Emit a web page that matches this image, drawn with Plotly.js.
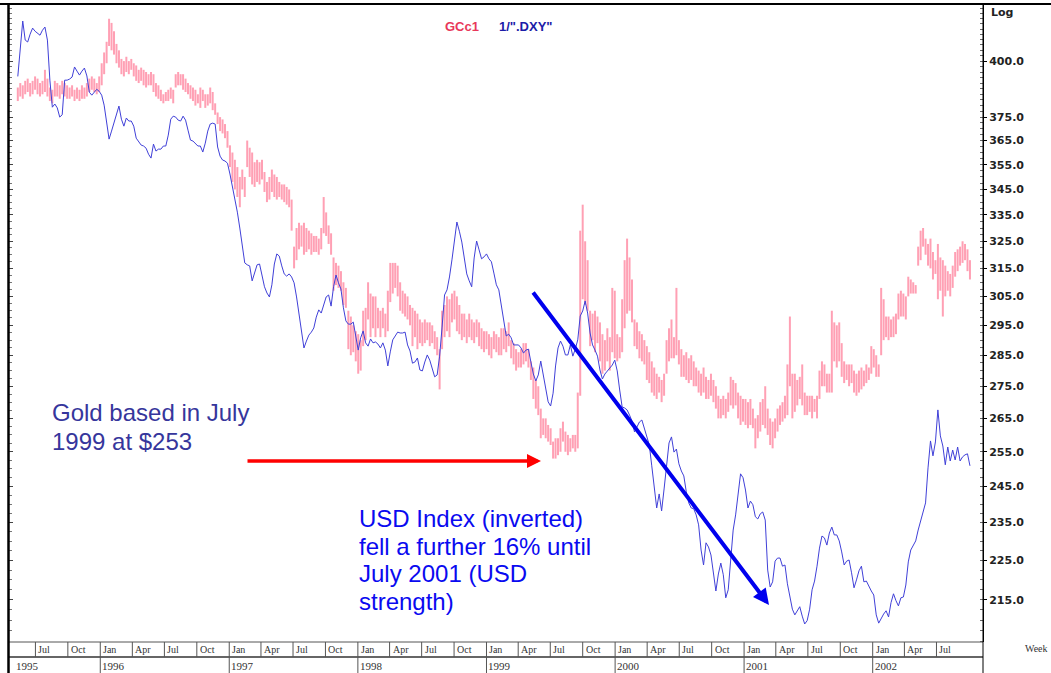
<!DOCTYPE html>
<html><head><meta charset="utf-8">
<script src="https://cdn.plot.ly/plotly-3.0.1.min.js"></script>
<style>html,body{margin:0;padding:0;background:#fff;overflow:hidden}#chart{width:1051px;height:673px}</style>
</head><body><div id="chart"></div>
<script>
// ---------- DATA (weekly) ----------
const firstWeek = '1995-05-12';

const goldHigh = [
388,390,389,391,392,390,391,393,392,390,
391,396,392,388,387,391,390,389,391,390,
389,388,389,387,388,387,389,388,390,392,
393,392,390,393,399,404,409,420,418,414,
408,405,401,400,402,400,401,399,398,396,
397,396,395,394,395,394,390,389,387,385,
386,387,388,387,394,395,394,394,392,390,
389,388,387,385,388,387,385,385,388,386,
381,377,375,374,372,369,363,360,357,354,
350,353,350,365,362,360,356,357,356,357,
352,348,350,353,351,350,348,347,347,346,
345,341,323,330,332,331,332,330,329,328,
327,327,326,330,342,336,331,328,319,317,
316,314,310,308,300,298,295,293,292,290,
300,301,310,306,305,305,301,300,301,299,
307,317,317,317,316,310,307,306,305,302,
301,300,299,297,296,297,296,296,295,293,
291,287,300,302,305,304,306,307,305,302,
299,299,297,299,297,296,297,296,294,293,
293,292,291,293,292,291,294,294,293,296,
290,289,287,286,287,289,289,287,283,281,
277,275,268,265,265,263,262,258,259,259,
262,264,261,260,259,260,260,273,329,339,
325,318,300,299,300,298,296,292,290,294,
291,308,307,292,291,304,318,326,319,311,
297,296,293,292,290,288,286,283,281,279,
278,277,279,290,294,297,291,308,290,287,
285,286,284,285,283,281,280,279,281,278,
277,279,277,275,272,271,272,271,273,278,
277,276,273,272,271,271,270,271,268,265,
266,270,271,275,268,265,264,265,268,269,
270,272,282,298,279,279,277,278,282,273,
272,272,272,271,272,280,283,282,279,279,
300,296,295,296,289,283,282,282,282,280,
279,280,281,280,282,281,288,287,285,282,
308,304,298,298,297,298,299,306,307,306,
305,312,311,310,309,323,329,330,326,324,
326,321,318,324,319,318,316,314,313,316,
321,322,323,325,324,322,318
];

const goldLow = [
382,384,383,385,386,384,385,387,385,384,
385,386,384,382,381,384,384,383,385,384,
383,383,384,382,383,382,383,383,384,386,
387,386,385,386,389,394,399,407,405,403,
399,397,394,393,395,394,396,393,391,390,
391,389,388,389,389,386,384,383,382,381,
382,382,383,381,388,389,389,387,386,385,
383,382,380,381,379,382,379,380,381,378,
376,372,369,368,366,362,354,348,345,342,
338,345,342,354,350,347,346,348,347,349,
344,340,341,344,342,341,342,341,340,339,
338,329,315,318,322,323,320,321,322,320,
321,321,320,322,328,327,324,320,307,309,
308,307,302,301,287,285,286,283,279,280,
288,290,297,291,294,291,294,291,294,291,
293,303,306,308,305,300,299,298,297,295,
288,291,287,289,288,289,290,288,289,287,
285,274,287,291,293,291,296,297,293,292,
290,291,289,291,290,289,291,288,287,286,
287,285,284,287,286,285,285,287,286,288,
284,282,280,281,281,282,283,281,277,271,
268,266,259,260,259,258,257,253,253,254,
255,258,255,254,255,256,255,256,272,304,
302,300,288,290,286,289,283,279,280,283,
280,286,284,283,284,286,294,299,300,296,
288,287,284,283,282,277,276,273,272,271,
273,270,272,279,283,284,284,285,282,278,
278,277,276,277,275,275,273,272,273,271,
271,272,270,268,265,265,266,265,267,269,
268,269,265,263,264,263,262,263,262,256,
259,261,263,262,260,257,256,259,261,263,
264,265,266,275,265,267,269,271,269,266,
266,267,265,267,265,271,275,275,273,273,
273,283,281,283,278,276,277,275,276,273,
272,273,274,275,276,277,279,281,278,278,
285,290,291,290,291,291,292,297,298,298,
297,305,306,306,306,316,318,323,320,316,
315,311,313,304,307,298,305,307,305,308,
312,314,316,317,318,314,311
];

const usdInverted = [
393.0,405.0,418.9,409.8,408.9,412.6,415.5,414.0,413.1,412.1,
414.5,416.0,409.8,391.3,379.3,380.7,379.0,375.0,376.0,391.3,
391.3,391.8,392.7,397.3,395.4,393.6,395.4,396.8,393.2,385.9,
384.6,385.9,387.2,386.3,384.6,380.2,373.3,365.6,369.0,372.9,
376.8,379.8,374.1,371.1,374.6,373.3,373.3,371.1,366.0,364.4,
363.1,362.7,361.8,359.3,357.7,363.5,360.6,361.4,361.4,362.7,
362.7,367.3,374.1,375.4,375.0,373.7,373.3,375.4,373.7,369.4,
365.2,364.8,363.5,362.7,362.7,360.2,363.9,369.0,372.0,372.4,
372.0,362.3,358.5,356.9,356.5,355.6,351.2,346.4,341.2,336.1,
330.0,322.9,317.0,316.3,315.9,310.5,313.7,316.3,316.6,312.6,
308.4,306.2,304.8,309.1,316.6,320.3,319.5,315.9,313.0,312.2,
313.0,311.9,309.8,304.8,298.5,292.0,287.4,289.7,291.7,292.7,
294.1,297.8,300.3,299.2,302.0,304.8,305.5,301.6,308.4,312.6,
309.8,307.6,301.0,296.5,295.4,295.4,296.1,290.8,286.7,290.8,
293.1,289.1,288.0,290.4,289.1,289.4,288.7,287.4,289.1,286.7,
281.5,286.1,290.1,291.4,292.7,292.4,292.4,292.7,288.4,286.4,
282.4,282.8,284.1,280.2,279.9,282.8,285.1,283.4,280.5,278.0,
278.6,284.7,294.4,305.5,307.3,311.9,318.1,325.5,332.3,328.8,
324.7,318.8,313.0,310.5,308.4,318.8,325.1,321.8,318.5,319.2,
320.3,318.5,317.4,313.3,309.1,307.3,302.0,295.4,291.4,292.0,
290.8,288.4,288.4,288.4,287.4,285.7,286.7,287.0,282.8,278.9,
276.7,278.6,283.1,278.9,273.8,270.1,268.8,272.8,281.5,287.4,
289.7,288.0,285.1,285.1,288.4,284.7,287.0,290.1,298.2,299.9,
303.4,299.2,292.4,288.4,286.7,284.7,280.2,277.3,278.9,279.9,
280.9,281.8,283.4,279.9,273.8,268.5,268.2,267.6,266.0,264.2,
260.9,262.4,263.9,264.5,262.1,259.7,257.0,250.9,244.0,239.0,
242.9,238.2,244.3,252.0,257.6,259.4,254.9,255.8,251.5,249.4,
248.0,243.5,240.4,239.0,238.8,237.1,234.4,227.7,223.8,229.6,
228.5,226.4,222.0,217.2,221.5,224.3,221.3,215.5,217.5,225.1,
233.0,237.1,242.9,248.6,247.5,244.0,239.0,240.9,239.9,236.6,
236.0,237.4,237.9,235.7,222.5,218.2,219.5,224.8,225.6,225.6,
223.5,223.8,219.0,216.0,212.7,211.3,212.5,213.3,211.0,209.1,
209.9,212.7,217.5,219.7,223.5,228.2,231.4,230.9,229.0,232.2,
233.8,231.7,231.7,230.1,227.2,223.8,224.8,225.1,221.8,218.0,
220.0,222.3,223.5,219.5,219.7,218.2,217.2,216.2,211.3,209.3,
210.6,211.5,212.3,210.8,214.3,216.5,214.8,213.5,215.5,215.7,
218.7,224.6,227.7,229.0,230.1,233.0,235.7,238.5,240.4,250.3,
258.2,253.8,257.9,267.6,259.7,256.7,251.2,256.4,252.3,255.5,
252.6,256.4,252.3,253.5,254.1,254.4,250.9
];

const quarterStarts = [
'1995-07-01','1995-10-01',
'1996-01-01','1996-04-01','1996-07-01','1996-10-01',
'1997-01-01','1997-04-01','1997-07-01','1997-10-01',
'1998-01-01','1998-04-01','1998-07-01','1998-10-01',
'1999-01-01','1999-04-01','1999-07-01','1999-10-01',
'2000-01-01','2000-04-01','2000-07-01','2000-10-01',
'2001-01-01','2001-04-01','2001-07-01','2001-10-01',
'2002-01-01','2002-04-01','2002-07-01'
];
const quarterLabels = [
'Jul','Oct',
'Jan','Apr','Jul','Oct','Jan','Apr','Jul','Oct','Jan','Apr','Jul','Oct',
'Jan','Apr','Jul','Oct','Jan','Apr','Jul','Oct','Jan','Apr','Jul','Oct',
'Jan','Apr','Jul'
];
const yearStarts = ['1996-01-01','1997-01-01','1998-01-01','1999-01-01','2000-01-01','2001-01-01','2002-01-01'];
const yearLabels = ['1996','1997','1998','1999','2000','2001','2002'];
const firstYearLabel = '1995';

const priceTicks = [215,225,235,245,255,265,275,285,295,305,315,325,335,345,355,365,375,400];

// ---------- BUILD ----------
const DAY = 86400000;
const t0 = Date.parse(firstWeek + 'T00:00:00Z');
const weeks = goldHigh.map((_, i) => new Date(t0 + i * 7 * DAY).toISOString().slice(0, 10));

const barX = [], barY = [];
weeks.forEach((d, i) => { barX.push(d, d, null); barY.push(goldLow[i], goldHigh[i], null); });

const minorVals = [];
for (let v = 205; v <= 427.5; v += 2.5) minorVals.push(v);

const yRange = [Math.log10(204.8), Math.log10(427.2)];
const tickText = priceTicks.map(v => v.toFixed(1));

// pixel helpers for overlay texts (plot area: x 9..983, y 4..642)
const PX = x => (x - 9) / 974;
const PY = y => (642 - y) / 638;

const traces = [
  {type: 'scatter', mode: 'lines', x: barX, y: barY, connectgaps: false,
   line: {color: '#ffa0b4', width: 2}, hoverinfo: 'skip', name: 'GCc1'},
  {type: 'scatter', mode: 'lines', x: weeks, y: usdInverted,
   line: {color: '#4040d8', width: 1}, name: '1/".DXY"'},
  {type: 'scatter', mode: 'lines', x: [], y: [], yaxis: 'y2', showlegend: false, hoverinfo: 'skip'}
];

const serif = 'Liberation Serif, Times New Roman, serif';
const annotations = [];
const shapes = [];

// bottom date band
shapes.push({type: 'line', xref: 'paper', yref: 'paper', x0: 0, x1: 1, y0: 0, y1: 0, line: {color: '#555', width: 1}});
shapes.push({type: 'line', xref: 'paper', yref: 'paper', x0: 0, x1: 1, y0: PY(657), y1: PY(657), line: {color: '#333', width: 1.5}});
quarterStarts.forEach((d, i) => {
  shapes.push({type: 'line', xref: 'x', yref: 'paper', x0: d, x1: d, y0: PY(657), y1: 0, line: {color: '#555', width: 1}});
  annotations.push({xref: 'x', yref: 'paper', x: d, y: PY(649.5), xanchor: 'left', yanchor: 'middle', xshift: 1,
    text: quarterLabels[i], showarrow: false, font: {family: serif, size: 10, color: '#333'}});
});
yearStarts.forEach((d, i) => {
  shapes.push({type: 'line', xref: 'x', yref: 'paper', x0: d, x1: d, y0: PY(673), y1: PY(657), line: {color: '#555', width: 1}});
  annotations.push({xref: 'x', yref: 'paper', x: d, y: PY(665.5), xanchor: 'left', yanchor: 'middle', xshift: 0,
    text: yearLabels[i], showarrow: false, font: {family: serif, size: 11, color: '#333'}});
});
annotations.push({xref: 'paper', yref: 'paper', x: PX(14), y: PY(665.5), xanchor: 'left', yanchor: 'middle',
  text: firstYearLabel, showarrow: false, font: {family: serif, size: 11, color: '#333'}});

// frame lines
shapes.push({type: 'line', xref: 'paper', yref: 'paper', x0: PX(0), x1: PX(1051), y0: PY(4), y1: PY(4), line: {color: '#000', width: 2}});
shapes.push({type: 'line', xref: 'paper', yref: 'paper', x0: PX(8.5), x1: PX(8.5), y0: PY(673), y1: PY(4), line: {color: '#000', width: 2.5}});
shapes.push({type: 'line', xref: 'paper', yref: 'paper', x0: 1, x1: 1, y0: PY(673), y1: PY(4), line: {color: '#000', width: 1}});

// legend-like header
annotations.push({xref: 'paper', yref: 'paper', x: PX(443), y: PY(26.5), xanchor: 'left', yanchor: 'middle', showarrow: false,
  text: 'GCc1', font: {family: 'Arial, Liberation Sans, sans-serif', size: 13, color: '#e8385a', weight: 'bold'}});
annotations.push({xref: 'paper', yref: 'paper', x: PX(497), y: PY(26.5), xanchor: 'left', yanchor: 'middle', showarrow: false,
  text: '1/".DXY"', font: {family: 'Arial, Liberation Sans, sans-serif', size: 13, color: '#1c1ca8', weight: 'bold'}});
annotations.push({xref: 'paper', yref: 'paper', x: PX(989), y: PY(12.5), xanchor: 'left', yanchor: 'middle', showarrow: false,
  text: 'Log', font: {family: 'DejaVu Sans, sans-serif', size: 11, color: '#222', weight: 'bold'}});
annotations.push({xref: 'paper', yref: 'paper', x: PX(1023), y: PY(648.5), xanchor: 'left', yanchor: 'middle', showarrow: false,
  text: 'Week', font: {family: serif, size: 10, color: '#333'}});

// commentary
const goldTxt = ['Gold based in July', '1999 at $253'];
const goldTxtY = [412.5, 441.5];
goldTxt.forEach((t, i) => annotations.push({xref: 'paper', yref: 'paper', x: PX(50), y: PY(goldTxtY[i]), xanchor: 'left', yanchor: 'middle',
  showarrow: false, text: t, font: {family: 'Arial, Liberation Sans, sans-serif', size: 24, color: '#36369c'}}));
const usdTxt = ['USD Index (inverted)', 'fell a further 16% until', 'July 2001 (USD', 'strength)'];
const usdTxtY = [518.5, 546, 573.5, 601];
usdTxt.forEach((t, i) => annotations.push({xref: 'paper', yref: 'paper', x: PX(357), y: PY(usdTxtY[i]), xanchor: 'left', yanchor: 'middle',
  showarrow: false, text: t, font: {family: 'Arial, Liberation Sans, sans-serif', size: 24, color: '#0a0af0'}}));

// arrows
annotations.push({xref: 'paper', yref: 'paper', x: PX(541), y: PY(461), ax: -295, ay: 0, text: '', showarrow: true,
  arrowhead: 2, arrowcolor: '#ff0000', arrowwidth: 3.5, arrowsize: 0.8, standoff: 0});
annotations.push({xref: 'paper', yref: 'paper', x: PX(769), y: PY(605), ax: -237, ay: -314, text: '', showarrow: true,
  arrowhead: 2, arrowcolor: '#0000ee', arrowwidth: 4, arrowsize: 0.8, standoff: 0});

const layout = {
  width: 1051, height: 673,
  margin: {l: 9, r: 68, t: 4, b: 31, pad: 0},
  paper_bgcolor: '#fff', plot_bgcolor: '#fff',
  showlegend: false,
  xaxis: {type: 'date', range: ['1995-04-17', '2002-11-10'], showticklabels: false, ticks: '',
          showgrid: false, zeroline: false, showline: false, fixedrange: true},
  yaxis: {type: 'log', range: yRange, side: 'right', showgrid: false, zeroline: false,
          showline: true, linecolor: '#000', linewidth: 1,
          tickmode: 'array', tickvals: priceTicks, ticktext: tickText,
          ticks: 'outside', ticklen: 3, tickcolor: '#000', tickwidth: 1,
          tickfont: {family: 'DejaVu Sans, sans-serif', size: 11, color: '#222', weight: 'bold'},
          minor: {tickvals: minorVals, ticks: 'inside', ticklen: 3, tickcolor: '#666', tickwidth: 1, showgrid: false}},
  yaxis2: {type: 'log', range: yRange, overlaying: 'y', side: 'left', showgrid: false, zeroline: false, showline: false,
          showticklabels: false, tickmode: 'array', tickvals: priceTicks, ticks: 'inside', ticklen: 4, tickcolor: '#444',
          minor: {tickvals: minorVals, ticks: 'inside', ticklen: 3, tickcolor: '#777', showgrid: false}},
  annotations: annotations,
  shapes: shapes
};

Plotly.newPlot('chart', traces, layout, {staticPlot: true, displayModeBar: false});
</script>
</body></html>
